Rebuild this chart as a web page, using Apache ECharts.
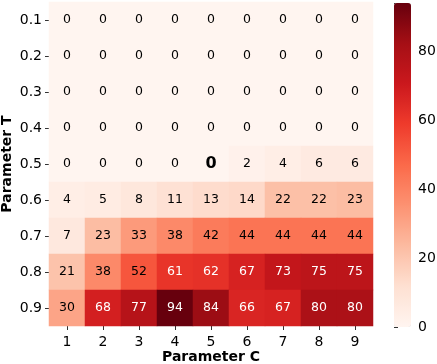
<!DOCTYPE html>
<html><head><meta charset="utf-8">
<script src="https://cdn.jsdelivr.net/npm/echarts@6/dist/echarts.min.js"></script>
<style>html,body{margin:0;padding:0;background:#fff}#c{width:437px;height:364px}</style>
</head><body><div id="c"></div>
<script>
const paramC = ['1','2','3','4','5','6','7','8','9'];
const paramT = ['0.1','0.2','0.3','0.4','0.5','0.6','0.7','0.8','0.9'];
const row01 = [0,0,0,0,0,0,0,0,0];
const row02 = [0,0,0,0,0,0,0,0,0];
const row03 = [0,0,0,0,0,0,0,0,0];
const row04 = [0,0,0,0,0,0,0,0,0];
const row05 = [0,0,0,0,0,2,4,6,6];
const row06 = [4,5,8,11,13,14,22,22,23];
const row07 = [7,23,33,38,42,44,44,44,44];
const row08 = [21,38,52,61,62,67,73,75,75];
const row09 = [30,68,77,94,84,66,67,80,80];
const highlight = {c:'5', t:'0.5'};
const colorbarTicks = [0,20,40,60,80];
const vmin = 0, vmax = 94;
const reds = ['#fff5f0','#fee0d2','#fcbba1','#fc9272','#fb6a4a','#ef3b2c','#cb181d','#a50f15','#67000d'];

const rows = [row01,row02,row03,row04,row05,row06,row07,row08,row09];
const data = [];
rows.forEach((r, yi) => r.forEach((v, xi) => {
  const hi = paramC[xi] === highlight.c && paramT[yi] === highlight.t;
  data.push({value:[xi, yi, v], label:{color: v > 55 ? '#ffffff' : '#000000',
    fontSize: hi ? 16 : 12.5, fontWeight: hi ? 'bold' : 'normal'}});
}));

const font = 'DejaVu Sans';
const chart = echarts.init(document.getElementById('c'), null, {renderer:'canvas'});
chart.setOption({
  animation:false,
  textStyle:{fontFamily:font},
  grid:[
    {left:49, top:2, width:324, height:324, containLabel:false, outerBoundsMode:'none'},
    {left:394, top:3, width:17, height:324, containLabel:false, outerBoundsMode:'none'}
  ],
  xAxis:[
    {type:'category', data:paramC, gridIndex:0, name:'Parameter C', nameLocation:'middle', nameGap:24,
     nameMoveOverlap:false,
     nameTextStyle:{fontFamily:font, fontWeight:'bold', fontSize:14, color:'#000'},
     axisLine:{show:false}, axisTick:{show:true, alignWithLabel:true, length:4, lineStyle:{color:'#333'}},
     axisLabel:{fontFamily:font, fontSize:14, color:'#000', margin:9}, splitLine:{show:false}},
    {type:'value', gridIndex:1, show:false, min:0, max:1}
  ],
  yAxis:[
    {type:'category', data:paramT, gridIndex:0, inverse:true, name:'Parameter T', nameLocation:'middle', nameGap:35,
     nameRotate:90, nameMoveOverlap:false,
     nameTextStyle:{fontFamily:font, fontWeight:'bold', fontSize:14, color:'#000'},
     axisLine:{show:false}, axisTick:{show:true, alignWithLabel:true, length:4, lineStyle:{color:'#333'}},
     axisLabel:{fontFamily:font, fontSize:14, color:'#000', margin:7}, splitLine:{show:false}},
    {type:'value', gridIndex:1, position:'right', min:vmin, max:vmax, interval:20,
     axisLine:{show:false}, axisTick:{show:true, length:4, lineStyle:{color:'#333'}},
     axisLabel:{fontFamily:font, fontSize:14, color:'#000', margin:7,
       formatter: v => colorbarTicks.includes(v) ? String(v) : ''},
     splitLine:{show:false}}
  ],
  visualMap:{type:'continuous', min:vmin, max:vmax, seriesIndex:0, calculable:false, show:true,
    orient:'vertical', left:394, top:3, itemWidth:17, itemHeight:324, padding:0, text:null,
    textStyle:{color:'transparent'}, inRange:{color:reds}},
  series:[{type:'heatmap', xAxisIndex:0, yAxisIndex:0, data:data,
    label:{show:true, fontFamily:font, fontSize:12.5},
    itemStyle:{borderWidth:0}, emphasis:{disabled:true}}]
});
</script></body></html>
